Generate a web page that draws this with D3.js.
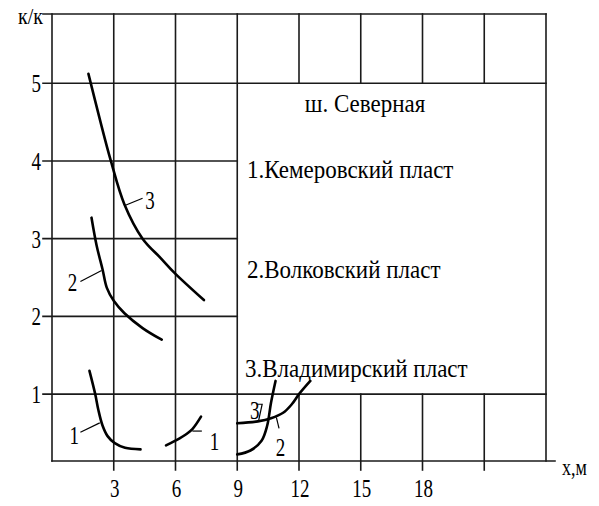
<!DOCTYPE html>
<html>
<head>
<meta charset="utf-8">
<script src="https://cdn.jsdelivr.net/npm/d3@7"></script>
<style>
  html, body { margin: 0; padding: 0; background: #fff; }
  svg text { font-family: "Liberation Serif", "Times New Roman", serif; fill: #000; }
</style>
</head>
<body>
<svg id="chart" width="599" height="506"></svg>
<script>
// ---------- data ----------
const xTickValues = [3, 6, 9, 12, 15, 18];
const xGridValues = [3, 6, 9, 12, 15, 18, 21];
const yTickValues = [1, 2, 3, 4, 5];
const yAxisLabel = "к/к";
const xAxisLabel = "х,м";
const legendTitle = "ш. Северная";
const legendItems = ["1.Кемеровский пласт", "2.Волковский пласт", "3.Владимирский пласт"];

// 1 – Кемеровский пласт (two branches)
const kem1X = [1.82, 2.10, 2.25, 2.45, 2.70, 3.05, 3.55, 4.30];
const kem1Y = [1.30, 1.00, 0.80, 0.60, 0.46, 0.37, 0.31, 0.29];
const kem2X = [5.54, 6.20, 6.50, 6.82, 7.24];
const kem2Y = [0.34, 0.43, 0.48, 0.55, 0.71];
// 2 – Волковский пласт
const vol1X = [1.92, 2.17, 2.46, 2.66, 3.00, 3.52, 4.40, 5.33];
const vol1Y = [3.27, 2.91, 2.60, 2.37, 2.20, 2.04, 1.85, 1.70];
const vol2X = [9.00, 9.64, 10.18, 10.45, 10.64, 10.86];
const vol2Y = [0.225, 0.275, 0.40, 0.59, 0.89, 1.17];
// 3 – Владимирский пласт
const vla1X = [1.77, 2.30, 2.86, 3.52, 4.40, 5.28, 5.95, 7.38];
const vla1Y = [5.12, 4.56, 4.00, 3.44, 3.00, 2.75, 2.56, 2.21];
const vla2X = [9.00, 10.00, 10.64, 11.23, 11.65, 12.00, 12.55];
const vla2Y = [0.625, 0.65, 0.69, 0.76, 0.87, 1.00, 1.17];

// curve labels: text, position, leader polyline (data units)
const labelText = ["3", "2", "1", "1", "3", "2"];
const labelX = [4.76, 0.99, 1.08, 7.90, 9.85, 11.10];
const labelY = [3.49, 2.43, 0.46, 0.385, 0.78, 0.31];
const leaders = [
  [[3.57, 3.43], [4.40, 3.52]],
  [[1.38, 2.45], [2.41, 2.59]],
  [[1.38, 0.51], [2.32, 0.63]],
  [[6.82, 0.525], [7.28, 0.525]],
  [[9.94, 0.87], [10.21, 0.87], [10.03, 0.65]],
  [[10.90, 0.70], [11.03, 0.56]]
];

// ---------- layout ----------
const svg = d3.select("#chart");
const mLeft = 52, mRight = 546, mTop = 14, mBottom = 461;
const x = d3.scaleLinear().domain([0, 24]).range([mLeft, mRight]);
const y = d3.scaleLinear().domain([0.14, 5.89]).range([mBottom, mTop]);
const gridColor = "#1a1a1a", gridW = 1.6;

const g = svg.append("g");
function line(x1, y1, x2, y2) {
  g.append("line").attr("x1", x1).attr("y1", y1).attr("x2", x2).attr("y2", y2)
    .attr("stroke", gridColor).attr("stroke-width", gridW).attr("stroke-linecap", "square");
}
function txt(px, py, s, size, anchor, sy) {
  svg.append("text")
    .attr("transform", `translate(${px},${py}) scale(1,${sy})`)
    .attr("text-anchor", anchor)
    .style("font-size", size + "px")
    .text(s);
}

// frame
line(mLeft, mBottom, mLeft, mTop);          // y axis
line(mLeft - 9, mTop, mRight, mTop);        // top edge with tick
line(mRight, mTop, mRight, mBottom);        // right edge
line(mLeft, mBottom, mRight + 9, mBottom);  // x axis

// horizontal grid
yTickValues.forEach(v => {
  const full = (v === 1 || v === 5);
  line(mLeft - 9, y(v), full ? mRight : x(9), y(v));
});
// vertical grid
xGridValues.forEach(v => {
  if (v <= 9) {
    line(x(v), mTop, x(v), mBottom + 9);
  } else {
    line(x(v), mTop, x(v), y(5));
    line(x(v), y(1), x(v), mBottom + 9);
  }
});

// tick labels
yTickValues.forEach(v => txt(mLeft - 11, y(v) + 9, String(v), 19, "end", 1.35));
xTickValues.forEach(v => txt(x(v) + 1, mBottom + 36, String(v), 19, "middle", 1.35));
txt(43, 24, yAxisLabel, 20, "end", 1.15);
txt(mRight + 16, mBottom + 14, xAxisLabel, 18, "start", 1.3);

// curves
const curveGen = d3.line().x(d => x(d[0])).y(d => y(d[1])).curve(d3.curveCatmullRom.alpha(0.5));
const series = [
  [kem1X, kem1Y], [kem2X, kem2Y],
  [vol1X, vol1Y], [vol2X, vol2Y],
  [vla1X, vla1Y], [vla2X, vla2Y]
];
series.forEach(([xs, ys]) => {
  svg.append("path")
    .datum(xs.map((v, i) => [v, ys[i]]))
    .attr("d", curveGen)
    .attr("fill", "none")
    .attr("stroke", "#000")
    .attr("stroke-width", 2.6)
    .attr("stroke-linecap", "round");
});

// leaders and labels
const leaderGen = d3.line().x(d => x(d[0])).y(d => y(d[1]));
leaders.forEach(pts => {
  svg.append("path").attr("d", leaderGen(pts))
    .attr("fill", "none").attr("stroke", "#000").attr("stroke-width", 1.2);
});
labelText.forEach((s, i) => txt(x(labelX[i]), y(labelY[i]) + 8, s, 19, "middle", 1.35));

// legend text
txt(365, 112, legendTitle, 23, "middle", 1.05);
txt(247, 178, legendItems[0], 23, "start", 1.05);
txt(247, 278, legendItems[1], 23, "start", 1.05);
txt(245, 377, legendItems[2], 23, "start", 1.05);
</script>
</body>
</html>
